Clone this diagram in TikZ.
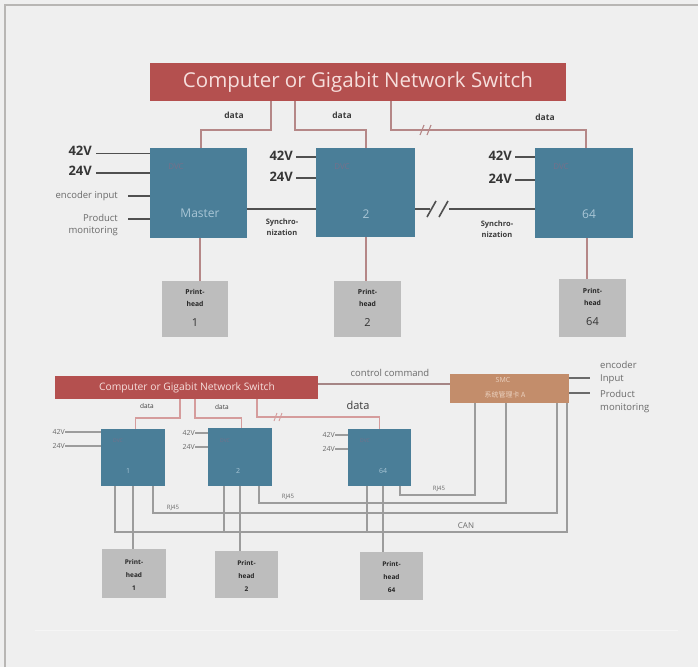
\documentclass[tikz,border=0pt]{standalone}
\usepackage{fontspec}
\setmainfont{Open Sans}
\newfontfamily\cjk{Noto Sans CJK SC}
\usetikzlibrary{calc}
\definecolor{bgc}{HTML}{EFEFEF}
\definecolor{frame}{HTML}{B8B6B4}
\definecolor{swred}{HTML}{B4504F}
\definecolor{swtext}{HTML}{F6DEDC}
\definecolor{bxblue}{HTML}{4A7E98}
\definecolor{bxtext}{HTML}{A9C6D6}
\definecolor{bxfaint}{HTML}{76708A}
\definecolor{brn}{HTML}{C38D6B}
\definecolor{brntext}{HTML}{EBD2C0}
\definecolor{phgray}{HTML}{BDBDBD}
\definecolor{dline}{HTML}{B58787}
\definecolor{dline2}{HTML}{D59C9C}
\definecolor{vline}{HTML}{505050}
\definecolor{gline}{HTML}{9C9C9C}
\definecolor{txt}{HTML}{3C3C3C}
\definecolor{txt2}{HTML}{6A6A6A}
\tikzset{
  box/.style={draw=none, inner sep=0pt, anchor=north west},
  redbox/.style={box, fill=swred},
  bluebox/.style={box, fill=bxblue},
  brownbox/.style={box, fill=brn},
  phbox/.style={box, fill=phgray},
  dataln/.style={draw=dline, line width=1.6pt},
  dataln2/.style={draw=dline2, line width=1.1pt},
  voltln/.style={draw=vline, line width=1.6pt},
  voltln2/.style={draw=gline, line width=1.1pt},
  grayln/.style={draw=gline, line width=1.1pt},
  lbl/.style={inner sep=0pt, text=txt},
  volt/.style={lbl, anchor=east, text=txt!90!black, font=\bfseries\fontsize{13}{14}\selectfont},
  brk/.style={line width=1.1pt},
}
\begin{document}
\begin{tikzpicture}[x=1pt,y=-1pt]
\fill[bgc] (0,0) rectangle (698,667);
\useasboundingbox (0,0) rectangle (698,667);
\draw[frame, line width=2pt] (5,667) -- (5,4.5) -- (698,4.5);
\draw[black!4, line width=0.8pt] (35,630) -- (678,630);

% ================= TOP =================
\node[redbox, minimum width=416pt, minimum height=38pt] (sw) at (150,63) {};
\node[text=swtext, inner sep=0pt, font=\fontsize{20.5}{22}\selectfont] (swt) at (358,82) {Computer or Gigabit Network Switch};

\node[bluebox, minimum width=97pt, minimum height=90pt] (m) at (150,148) {};
\node[bluebox, minimum width=99pt, minimum height=89pt] (b2) at (316,148) {};
\node[bluebox, minimum width=98pt, minimum height=90pt] (b64) at (535,148) {};
\node[inner sep=0pt, text=bxtext, font=\fontsize{12}{14}\selectfont] (mt) at (200,213) {Master};
\node[inner sep=0pt, text=bxtext, font=\fontsize{12}{14}\selectfont] (b2t) at (366,214) {2};
\node[inner sep=0pt, text=bxtext, font=\fontsize{12}{14}\selectfont] (b64t) at (589,214) {64};
\node[inner sep=0pt, text=bxfaint, font=\fontsize{8}{9}\selectfont] (mf) at (176,167) {DVC};
\node[inner sep=0pt, text=bxfaint, font=\fontsize{8}{9}\selectfont] (b2f) at (342,167) {DVC};
\node[inner sep=0pt, text=bxfaint, font=\fontsize{8}{9}\selectfont] (b64f) at (561,167) {DVC};

\node[phbox, minimum width=66pt, minimum height=56pt] (p1) at (162,281) {};
\node[phbox, minimum width=67pt, minimum height=56pt] (p2) at (334,281) {};
\node[phbox, minimum width=67pt, minimum height=58pt] (p64) at (559,279) {};
\foreach \n/\x/\y/\num in {p1/195/292/1, p2/367.5/292/2, p64/592.5/291/64}{
  \node[lbl, text=black!85, font=\bfseries\fontsize{6.8}{7}\selectfont] (\n a) at (\x,\y) {Print-};
  \node[lbl, text=black!85, font=\bfseries\fontsize{6.8}{7}\selectfont] (\n b) at (\x,\y+12) {head};
  \node[lbl, text=black!80, font=\fontsize{11}{12}\selectfont] (\n c) at (\x,\y+31) {\num};
}

% data lines
\coordinate (d1) at (271,101);
\coordinate (d2) at (295,101);
\coordinate (d3) at (391,101);
\draw[dataln] (d1) -- ++(0,29) -| ([xshift=2.5pt]m.north);
\draw[dataln] (d2) -- ++(0,29) -| (b2.north);
\draw[dataln] (d3) -- ++(0,29) -| ([xshift=2pt]b64.north);
\draw[dline, brk] (420,135) -- (424,125) (427,135) -- (431,125);
\node[lbl, font=\bfseries\fontsize{8.5}{9}\selectfont] (dl1) at (234,115) {data};
\node[lbl, font=\bfseries\fontsize{8.5}{9}\selectfont] (dl2) at (342,115) {data};
\node[lbl, font=\bfseries\fontsize{8.5}{9}\selectfont] (dl3) at (545,117) {data};

% printhead links
\draw[dataln] ([xshift=1.5pt]m.south) -- ([xshift=1.5pt]m.south |- p1.north);
\draw[dataln] (b2.south) -- (b2.south |- p2.north);
\draw[dataln] ([xshift=3pt]b64.south) -- ([xshift=3pt]b64.south |- p64.north);

% voltages master
\node[volt] (m42) at (92,151) {42V};
\node[volt] (m24) at (92,171) {24V};
\coordinate (m42e) at (96,153.5);
\coordinate (m24e) at (96,173);
\draw[voltln] (m42e) -- (m.west |- m42e);
\draw[voltln] (m24e) -- (m.west |- m24e);
\node[lbl, anchor=east, text=txt2, font=\fontsize{9.5}{10}\selectfont] (menc) at (118,196) {encoder input};
\node[lbl, anchor=east, text=txt2, align=right, font=\fontsize{9.5}{12.5}\selectfont] (mpm) at (118,225) {Product\\monitoring};
\coordinate (mence) at (128,196);
\coordinate (mpme) at (128,219);
\draw[voltln] (mence) -- (m.west |- mence);
\draw[voltln] (mpme) -- (m.west |- mpme);

% voltages box 2
\node[volt] (b242) at (293,156) {42V};
\node[volt] (b224) at (293,177) {24V};
\coordinate (b242e) at (296,157);
\coordinate (b224e) at (296,178);
\draw[voltln] (b242e) -- (b2.west |- b242e);
\draw[voltln] (b224e) -- (b2.west |- b224e);
% voltages box 64
\node[volt] (b6442) at (512,156) {42V};
\node[volt] (b6424) at (512,179) {24V};
\coordinate (b6442e) at (515,157);
\coordinate (b6424e) at (515,180);
\draw[voltln] (b6442e) -- (b64.west |- b6442e);
\draw[voltln] (b6424e) -- (b64.west |- b6424e);

% synchronization
\draw[voltln] (m.east |- 0,209) -- (b2.west |- 0,209);
\node[lbl, align=center, font=\bfseries\fontsize{7.5}{11}\selectfont] (s1) at (282,227) {Synchro-\\nization};
\draw[voltln] (b2.east |- 0,209) -- (b64.west |- 0,209);
\fill[bgc] (429,202) rectangle (449,216);
\draw[vline, line width=1.6pt] (427,217) -- (436,201) (439,217) -- (448,201);
\draw[vline, line width=1.6pt] (424,209) -- (430,209);
\node[lbl, align=center, font=\bfseries\fontsize{7.5}{11}\selectfont] (s2) at (497,229) {Synchro-\\nization};

% ================= BOTTOM =================
\node[redbox, minimum width=263pt, minimum height=23pt] (sw2) at (55,376) {};
\node[text=swtext, inner sep=0pt, font=\fontsize{10.3}{11}\selectfont] (sw2t) at (187,388) {Computer or Gigabit Network Switch};

\node[brownbox, minimum width=119pt, minimum height=29pt] (smc) at (450,374) {};
\node[lbl, text=brntext, font=\fontsize{7}{8}\selectfont] (smct) at (503,380) {SMC};
\node[lbl, text=brntext, font=\cjk\fontsize{7}{8}\selectfont] (smcc) at (505,395) {系统管理卡 A};

\node[bluebox, minimum width=64pt, minimum height=57pt] (c1) at (101,429) {};
\node[bluebox, minimum width=64pt, minimum height=58pt] (c2) at (208,428) {};
\node[bluebox, minimum width=63pt, minimum height=57pt] (c64) at (348,429) {};
\node[inner sep=0pt, text=bxtext, font=\fontsize{7}{8}\selectfont] (c1t) at (128,471) {1};
\node[inner sep=0pt, text=bxtext, font=\fontsize{7}{8}\selectfont] (c2t) at (238,471) {2};
\node[inner sep=0pt, text=bxtext, font=\fontsize{7}{8}\selectfont] (c64t) at (383,471) {64};
\node[inner sep=0pt, text=bxfaint, font=\fontsize{5}{6}\selectfont] (c1f) at (118,441) {DVC};
\node[inner sep=0pt, text=bxfaint, font=\fontsize{5}{6}\selectfont] (c2f) at (225,441) {DVC};
\node[inner sep=0pt, text=bxfaint, font=\fontsize{5}{6}\selectfont] (c64f) at (365,441) {DVC};

\node[phbox, minimum width=64pt, minimum height=49pt] (q1) at (102,549) {};
\node[phbox, minimum width=63pt, minimum height=47pt] (q2) at (215,551) {};
\node[phbox, minimum width=63pt, minimum height=48pt] (q64) at (360,552) {};
\foreach \n/\x/\y/\num in {q1/134/562/1, q2/246.5/563/2, q64/391.5/564/64}{
  \node[lbl, text=black!85, font=\bfseries\fontsize{6.5}{7}\selectfont] (\n a) at (\x,\y) {Print-};
  \node[lbl, text=black!85, font=\bfseries\fontsize{6.5}{7}\selectfont] (\n b) at (\x,\y+13) {head};
  \node[lbl, text=black!85, font=\bfseries\fontsize{6.5}{7}\selectfont] (\n c) at (\x,\y+26) {\num};
}

% voltages bottom
\foreach \n/\lx/\rx/\y/\tgt in {c1/65/101/432/c1, c2/195/208/433/c2, c64/335/348/435/c64}{
  \node[lbl, anchor=east, text=txt2, font=\fontsize{7}{8}\selectfont] (\n v42) at (\lx,\y) {42V};
  \node[lbl, anchor=east, text=txt2, font=\fontsize{7}{8}\selectfont] (\n v24) at (\lx,\y+14) {24V};
  \draw[voltln2] (\n v42.east) -- (\tgt.west |- \n v42.east);
  \draw[voltln2] (\n v24.east) -- (\tgt.west |- \n v24.east);
}

% data lines bottom
\coordinate (e1) at (180,399);
\coordinate (e2) at (195,399);
\coordinate (e3) at (257,399);
\draw[dataln2] (e1) -- ++(0,19) -| ([xshift=2.5pt]c1.north);
\draw[dataln2] (e2) -- ++(0,19) -| ([xshift=1pt]c2.north);
\draw[dataln2] (e3) -- ++(0,18) -| ([xshift=-0.5pt]c64.north);
\draw[dline2, line width=0.9pt] (274,421) -- (277,413) (279,421) -- (282,413);
\node[lbl, font=\fontsize{6.5}{7}\selectfont] (el1) at (147,406) {data};
\node[lbl, font=\fontsize{6.5}{7}\selectfont] (el2) at (222,407) {data};
\node[lbl, font=\fontsize{11}{12}\selectfont] (el3) at (358,405) {data};

% control command
\coordinate (ccy) at (0,384);
\draw[dataln2, draw=dline!70!gray] (sw2.east |- ccy) -- (smc.west |- ccy);
\node[lbl, text=txt2, font=\fontsize{9.5}{10}\selectfont] (cc) at (390,373) {control command};

% SMC right side
\coordinate (sr1) at (590,378);
\coordinate (sr2) at (590,393);
\draw[grayln, draw=txt2] (smc.east |- sr1) -- (sr1);
\draw[grayln, draw=txt2] (smc.east |- sr2) -- (sr2);
\node[lbl, anchor=west, text=txt2, align=left, font=\fontsize{9.5}{13}\selectfont] (encr) at (600,373) {encoder\\Input};
\node[lbl, anchor=west, text=txt2, align=left, font=\fontsize{9.5}{13}\selectfont] (pmr) at (600,402) {Product\\monitoring};

% printhead links bottom
\draw[grayln] ([xshift=32pt]c1.south west) -- ([xshift=31pt]q1.north west);
\draw[grayln] ([xshift=32pt]c2.south west) -- ([xshift=25pt]q2.north west);
\draw[grayln] ([xshift=35pt]c64.south west) -- ([xshift=23pt]q64.north west);

% CAN bus
\coordinate (canr) at (567,532);
\draw[grayln] ([xshift=14pt]c1.south west) |- (canr) -- (smc.south -| canr);
\draw[grayln] ([xshift=16pt]c2.south west) -- ([xshift=16pt]c2.south west |- canr);
\draw[grayln] ([xshift=19pt]c64.south west) -- ([xshift=19pt]c64.south west |- canr);
\node[lbl, text=txt2, font=\fontsize{8}{9}\selectfont] (can) at (466,526) {CAN};

% RJ45
\coordinate (rj1) at (557,513);
\coordinate (rj2) at (506,503);
\coordinate (rj3) at (475,495);
\draw[grayln] ([xshift=52pt]c1.south west) |- (rj1) -- (smc.south -| rj1);
\draw[grayln] ([xshift=51pt]c2.south west) |- (rj2) -- (smc.south -| rj2);
\draw[grayln] ([xshift=52pt]c64.south west) |- (rj3) -- (smc.south -| rj3);
\node[lbl, text=txt2, font=\fontsize{6}{7}\selectfont] (rjl1) at (173,508) {RJ45};
\node[lbl, text=txt2, font=\fontsize{6}{7}\selectfont] (rjl2) at (288,497) {RJ45};
\node[lbl, text=txt2, font=\fontsize{6}{7}\selectfont] (rjl3) at (439,489) {RJ45};
\end{tikzpicture}
\end{document}
